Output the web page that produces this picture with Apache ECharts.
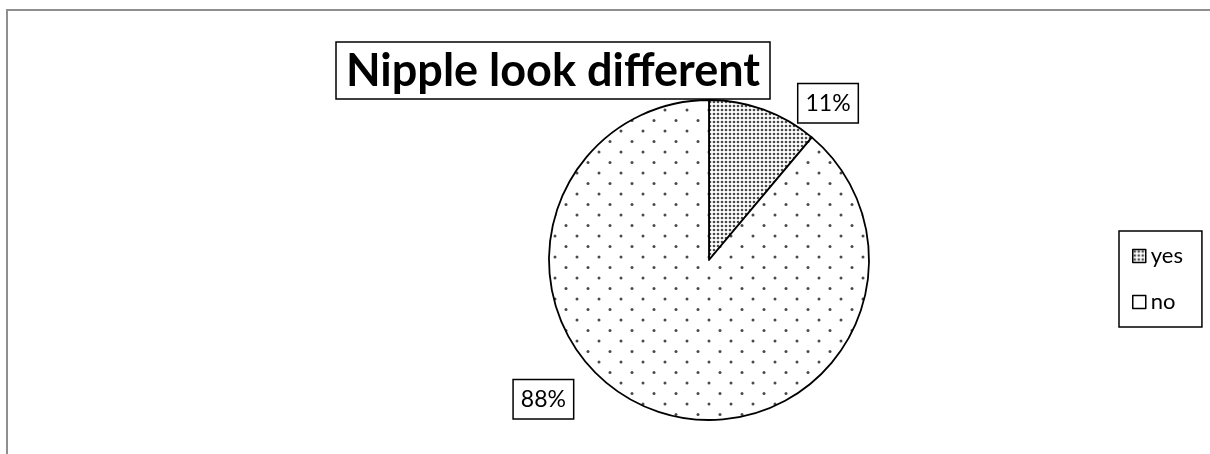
<!DOCTYPE html>
<html>
<head>
<meta charset="utf-8">
<script src="https://cdn.jsdelivr.net/npm/echarts@6/dist/echarts.min.js"></script>
<style>
  html, body { margin: 0; padding: 0; background: #fff; }
  #chart { width: 1210px; height: 454px; }
</style>
</head>
<body>
<div id="chart"></div>
<script>
// ---- data ----
var titleText = 'Nipple look different';
var categories = ['yes', 'no'];
var values = [11, 88];

// ---- patterns ----
function densePattern() {
  var c = document.createElement('canvas');
  c.width = 4; c.height = 4;
  var g = c.getContext('2d');
  g.fillStyle = '#ffffff'; g.fillRect(0, 0, 4, 4);
  g.fillStyle = '#4a4a4a';
  g.beginPath(); g.arc(2, 2, 1.35, 0, Math.PI * 2); g.fill();
  return c;
}
function sparsePattern() {
  var c = document.createElement('canvas');
  c.width = 22; c.height = 21;
  var g = c.getContext('2d');
  g.fillStyle = '#ffffff'; g.fillRect(0, 0, 22, 21);
  g.fillStyle = '#4a4a4a';
  g.beginPath(); g.arc(5, 5, 1.5, 0, Math.PI * 2); g.fill();
  g.beginPath(); g.arc(16, 15.5, 1.5, 0, Math.PI * 2); g.fill();
  return c;
}
var fills = [
  { image: densePattern(), repeat: 'repeat' },
  { image: sparsePattern(), repeat: 'repeat' }
];
var legendFills = [fills[0], '#ffffff'];
var labelLines = [
  { length: 8, length2: 30 },
  { length: 1, length2: 79 }
];
var labelShift = [1, -12];

var pieData = categories.map(function (name, i) {
  return {
    name: name,
    value: values[i],
    itemStyle: { color: fills[i] },
    labelLine: { show: false, length: labelLines[i].length, length2: labelLines[i].length2 }
  };
});

var chart = echarts.init(document.getElementById('chart'), null, { renderer: 'canvas' });
chart.setOption({
  animation: false,
  backgroundColor: '#ffffff',
  graphic: [{
    type: 'rect',
    shape: { x: 7, y: 10, width: 1400, height: 800 },
    style: { fill: 'none', stroke: '#8f8f8f', lineWidth: 2 },
    silent: true, z: -10
  }],
  title: {
    text: titleText,
    left: 336, top: 42,
    padding: [7, 10, 6, 10],
    backgroundColor: '#ffffff',
    borderColor: '#000000',
    borderWidth: 1.5,
    textStyle: { fontFamily: 'Lato', fontWeight: 'bold', fontSize: 45, lineHeight: 44, color: '#000' }
  },
  legend: {
    orient: 'vertical',
    left: 1119, top: 231,
    padding: [14, 19, 14, 13],
    itemGap: 24,
    itemWidth: 13, itemHeight: 13,
    icon: 'rect',
    borderColor: '#000000', borderWidth: 1.5,
    backgroundColor: '#ffffff',
    textStyle: { fontFamily: 'Lato', fontSize: 22, color: '#000' },
    data: categories.map(function (name, i) {
      return { name: name, itemStyle: { color: legendFills[i], borderColor: '#000', borderWidth: 1.5 } };
    })
  },
  series: [{
    type: 'pie',
    center: [709, 260],
    radius: 160,
    startAngle: 90,
    clockwise: true,
    avoidLabelOverlap: false,
    silent: true,
    itemStyle: { borderColor: '#000000', borderWidth: 1.8 },
    emphasis: { disabled: true },
    label: {
      show: true,
      position: 'outside',
      formatter: function (p) { return p.value + '%'; },
      fontFamily: 'Lato', fontSize: 23, color: '#000',
      backgroundColor: '#ffffff', borderColor: '#000', borderWidth: 1.5,
      padding: [7, 7, 8, 7],
      distanceToLabelLine: 2
    },
    labelLayout: function (p) { return { dy: labelShift[p.dataIndex] }; },
    data: pieData
  }]
});
</script>
</body>
</html>
